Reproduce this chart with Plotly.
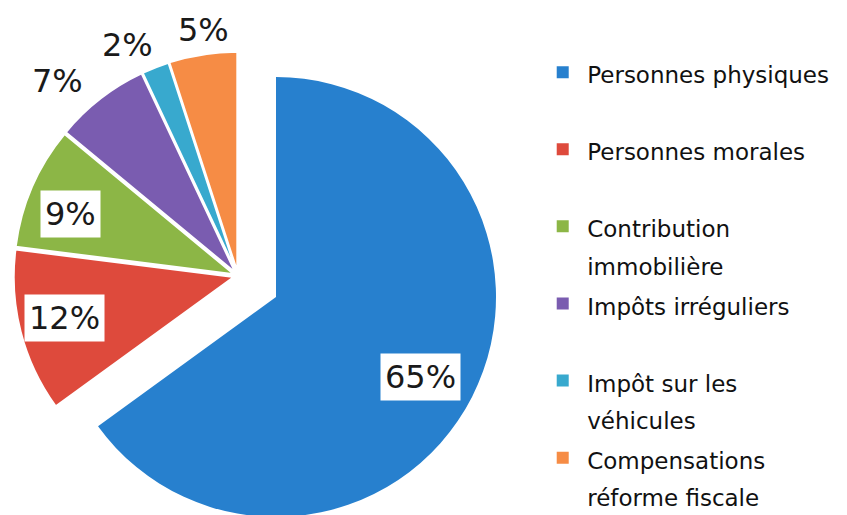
import math
import plotly.graph_objects as go

# ---- data ----
labels = ["Personnes physiques", "Personnes morales", "Contribution<br>immobilière",
          "Impôts irréguliers", "Impôt sur les<br>véhicules", "Compensations<br>réforme fiscale"]
values = [65, 12, 9, 7, 2, 5]
pct_text = ["65%", "12%", "9%", "7%", "2%", "5%"]

# ---- style ----
colors = ["#2780CE", "#DE4A3C", "#8CB646", "#7A5CB0", "#38A9CE", "#F68C45"]
CLEAR = "rgba(255,255,255,0)"
label_radius = [0.75, 0.79, 0.79, 1.19, 1.145, 1.11]    # fraction of r from slice apex
label_angle_shift = [2, 0.7, -3, -5, -4, 1]             # degrees
label_boxed = [True, True, True, False, False, False]

W, H = 847, 515
PAGE_MARGIN = 8              # default body margin of the written page
R = 220                      # pie radius in px
small_pull = 0.02            # slight separation of the small slices
main_c = (238 - PAGE_MARGIN, 276 - PAGE_MARGIN)   # centre of the un-exploded slices
expl_c = (276 - PAGE_MARGIN, 297 - PAGE_MARGIN)   # centre of the exploded first slice


def dom(c, half):
    return dict(x=[(c[0] - half) / W, (c[0] + half) / W],
                y=[1 - (c[1] + half) / H, 1 - (c[1] - half) / H])


legend_labels = [
    '<span style="font-size:23px">' + (l if "<br>" in l else l + "<br> ") + "</span>"
    for l in labels
]

fig = go.Figure()

# legend carrier (tiny, hidden under the exploded slice)
fig.add_trace(go.Pie(
    labels=legend_labels, values=values, sort=False, direction="clockwise",
    marker=dict(colors=colors), textinfo="none", hoverinfo="skip",
    domain=dom((400, 300), 0.4), showlegend=True,
))

# remaining slices (first slice transparent)
half_main = R * (1 + small_pull)
fig.add_trace(go.Pie(
    labels=legend_labels, values=values, sort=False, direction="clockwise", rotation=0,
    pull=[0] + [small_pull] * (len(values) - 1),
    marker=dict(colors=[CLEAR] + colors[1:], line=dict(color="white", width=2)),
    textinfo="none", hoverinfo="label+percent",
    domain=dom(main_c, half_main), showlegend=False,
))

# exploded first slice
fig.add_trace(go.Pie(
    labels=[legend_labels[0], "rest"], values=[values[0], sum(values[1:])],
    sort=False, direction="clockwise", rotation=0,
    marker=dict(colors=[colors[0], CLEAR], line=dict(width=0)),
    textinfo="none", hoverinfo="skip",
    domain=dom(expl_c, R), showlegend=False,
))

total = sum(values)
cum = 0
annotations = []
for i, v in enumerate(values):
    mid = 360 * (cum + v / 2) / total + label_angle_shift[i]
    cum += v
    t = math.radians(mid)
    if i == 0:
        c, p = expl_c, 0
    else:
        c, p = main_c, small_pull
    rr = (p + label_radius[i]) * R
    px = c[0] + rr * math.sin(t)
    py = c[1] - rr * math.cos(t)
    annotations.append(dict(
        x=px / W, y=1 - py / H, xref="paper", yref="paper",
        text=pct_text[i], showarrow=False,
        font=dict(family="DejaVu Sans", size=32, color="#1a1a1a"),
        bgcolor="white" if label_boxed[i] else "rgba(0,0,0,0)",
        borderpad=4,
        xanchor="center", yanchor="middle",
    ))

fig.update_layout(
    width=W, height=H,
    margin=dict(l=0, r=0, t=0, b=0),
    paper_bgcolor="white",
    plot_bgcolor="white",
    font=dict(family="DejaVu Sans", color="#111111"),
    annotations=annotations,
    legend=dict(
        x=0.626, xanchor="left", y=0.924, yanchor="top",
        font=dict(family="DejaVu Sans", size=28.5, color="#111111"),
        valign="top",
        itemwidth=39,
        bgcolor="rgba(0,0,0,0)",
    ),
)

fig.write_html("out.html")
